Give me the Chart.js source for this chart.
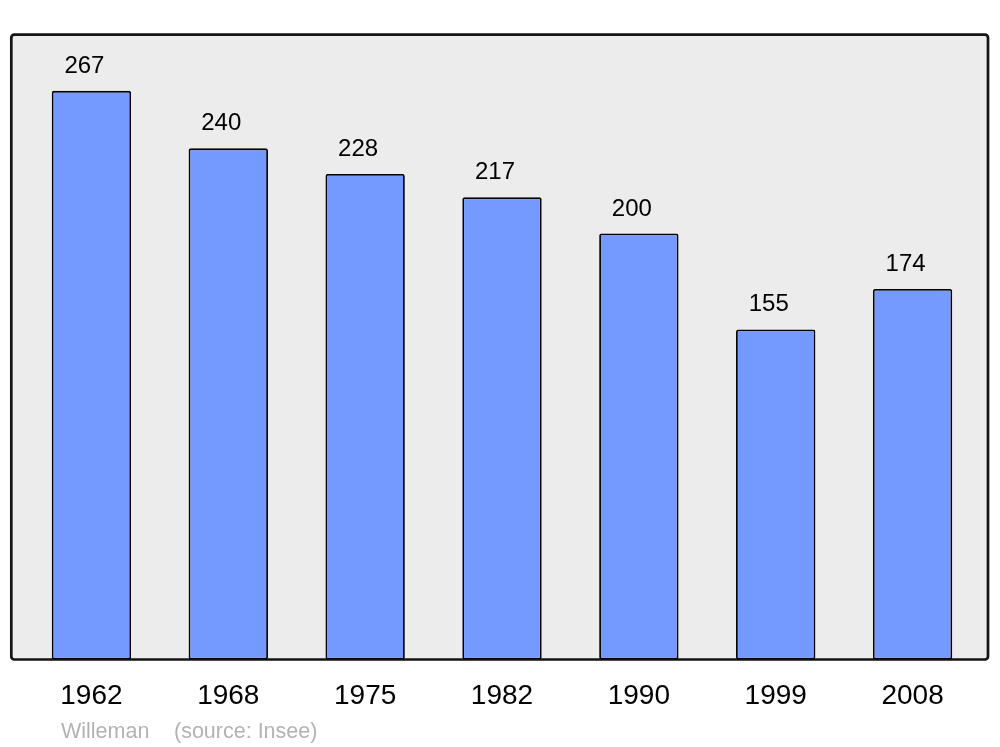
<!DOCTYPE html>
<html>
<head>
<meta charset="utf-8">
<script src="https://cdn.jsdelivr.net/npm/chart.js@4/dist/chart.umd.min.js"></script>
<style>
  html, body { margin: 0; padding: 0; background: #ffffff; }
  #chart { display: block; }
</style>
</head>
<body>
<canvas id="chart" width="1000" height="747"></canvas>
<script>
// Données - population par recensement
const years = ['1962', '1968', '1975', '1982', '1990', '1999', '2008'];
const population = [267, 240, 228, 217, 200, 155, 174];
const yMax = 293.7;
const footerAuthor = 'Willeman';
const footerSource = '(source: Insee)';

const FONT = '"Liberation Sans", Arial, sans-serif';

// Fond gris avec bordure arrondie
const framePlugin = {
  id: 'frame',
  beforeDatasetsDraw(chart) {
    const { ctx, chartArea } = chart;
    const x = chartArea.left - 11.7, y = chartArea.top + 0.7;
    const w = chartArea.right + 7 - x, h = chartArea.bottom - y;
    ctx.save();
    ctx.beginPath();
    ctx.roundRect(x, y, w, h, 3);
    ctx.fillStyle = '#ececec';
    ctx.fill();
    ctx.lineWidth = 2.7;
    ctx.strokeStyle = '#141414';
    ctx.stroke();
    ctx.restore();
  },
  afterDatasetsDraw(chart) {
    const { ctx } = chart;
    const meta = chart.getDatasetMeta(0);
    ctx.save();
    ctx.fillStyle = '#000000';
    ctx.font = '24px ' + FONT;
    ctx.textAlign = 'center';
    ctx.textBaseline = 'alphabetic';
    meta.data.forEach((bar, i) => {
      ctx.fillText(String(population[i]), bar.x - 7, bar.y - 18);
    });
    // Pied de page
    ctx.fillStyle = '#b3b3b3';
    ctx.font = '21.5px ' + FONT;
    ctx.textAlign = 'left';
    ctx.fillText(footerAuthor, 61, 737.5);
    ctx.fillText(footerSource, 174, 737.5);
    ctx.restore();
  }
};

new Chart(document.getElementById('chart').getContext('2d'), {
  type: 'bar',
  data: {
    labels: years,
    datasets: [{
      data: population,
      backgroundColor: '#7499ff',
      borderColor: '#000000',
      borderWidth: 1.8,
      borderRadius: 2,
      borderSkipped: false,
      barPercentage: 0.58,
      categoryPercentage: 1
    }]
  },
  options: {
    responsive: false,
    animation: false,
    events: [],
    layout: { padding: { left: 23, right: 19, top: 34, bottom: 0 } },
    plugins: {
      legend: { display: false },
      tooltip: { enabled: false }
    },
    scales: {
      x: {
        offset: true,
        grid: { display: false, drawTicks: false },
        border: { display: false },
        ticks: {
          color: '#000000',
          font: { family: FONT, size: 28 },
          padding: 20,
          maxRotation: 0
        },
        afterFit(scale) { scale.height = 87.5; }
      },
      y: {
        display: false,
        min: 0,
        max: yMax
      }
    }
  },
  plugins: [framePlugin]
});
</script>
</body>
</html>
